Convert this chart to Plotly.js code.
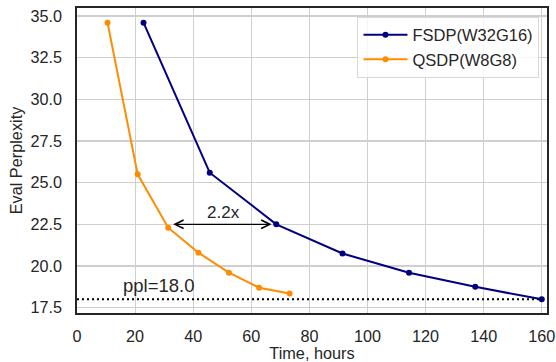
<!DOCTYPE html>
<html>
<head>
<meta charset="utf-8">
<script src="https://cdn.plot.ly/plotly-3.0.1.min.js"></script>
<style>html,body{margin:0;padding:0;background:#fff;}#chart{width:556px;height:362px;}</style>
</head>
<body>
<div id="chart"></div>
<script>
const fsdpName = "FSDP(W32G16)";
const qsdpName = "QSDP(W8G8)";
const fsdpHours = [22.9, 45.7, 68.6, 91.4, 114.3, 137.1, 160];
const fsdpPpl = [34.6, 25.6, 22.5, 20.75, 19.6, 18.75, 18.0];
const qsdpHours = [10.5, 20.9, 31.4, 41.8, 52.3, 62.7, 73.2];
const qsdpPpl = [34.6, 25.5, 22.3, 20.8, 19.6, 18.7, 18.35];
const xTicks = [0, 20, 40, 60, 80, 100, 120, 140, 160];
const yTicks = [17.5, 20.0, 22.5, 25.0, 27.5, 30.0, 32.5, 35.0];
const targetPpl = 18.0;
const targetLabel = "ppl=18.0";
const speedupLabel = "2.2x";
const speedupFrom = 32.6;
const speedupTo = 67.0;
const speedupY = 22.5;

const font = "Liberation Sans, Arial, sans-serif";

const traces = [
  {x: fsdpHours, y: fsdpPpl, name: fsdpName, mode: "lines+markers",
   line: {color: "#000080", width: 2}, marker: {color: "#000080", size: 6}},
  {x: qsdpHours, y: qsdpPpl, name: qsdpName, mode: "lines+markers",
   line: {color: "#ff8c00", width: 2}, marker: {color: "#ff8c00", size: 6}}
];

const layout = {
  width: 556, height: 362,
  margin: {l: 77, r: 9, t: 8, b: 49},
  paper_bgcolor: "#fff", plot_bgcolor: "#fff",
  font: {family: font, size: 16.2, color: "#262626"},
  showlegend: true,
  legend: {x: 0.984, y: 0.972, xanchor: "right", yanchor: "top",
    bgcolor: "rgba(255,255,255,0.8)", bordercolor: "#d8d8d8", borderwidth: 1,
    itemwidth: 44,
    font: {family: font, size: 16.5, color: "#262626"}},
  xaxis: {range: [0, 161.8], tickvals: xTicks, ticktext: xTicks.map(String),
    showgrid: true, gridcolor: "#cfcfcf", gridwidth: 1.2, zeroline: false,
    showline: true, linecolor: "#262626", linewidth: 1.8, mirror: true,
    ticks: "outside", ticklen: 8, tickcolor: "rgba(0,0,0,0)",
    title: {text: "Time, hours", font: {family: font, size: 16.3, color: "#262626"}, standoff: 4}},
  yaxis: {range: [17.18, 35.48], tickvals: yTicks, ticktext: yTicks.map(v => v.toFixed(1)),
    showgrid: true, gridcolor: "#cfcfcf", gridwidth: 1.2, zeroline: false,
    showline: true, linecolor: "#262626", linewidth: 1.8, mirror: true,
    ticks: "outside", ticklen: 10, tickcolor: "rgba(0,0,0,0)",
    title: {text: "Eval Perplexity", font: {family: font, size: 16.3, color: "#262626"}, standoff: 4}},
  shapes: [
    {type: "line", xref: "x", yref: "y", x0: 0, x1: 160, y0: targetPpl, y1: targetPpl,
     line: {color: "#000", width: 2, dash: "2px,3px"}}
  ],
  annotations: [
    {x: 15.2, y: 18.84, xref: "x", yref: "y", text: targetLabel, showarrow: false,
     xanchor: "left", yanchor: "middle", font: {family: font, size: 18.5, color: "#262626"}},
    {x: 50.3, y: 23.22, xref: "x", yref: "y", text: speedupLabel, showarrow: false,
     xanchor: "center", yanchor: "middle", font: {family: font, size: 17, color: "#262626"}},
    {x: speedupTo, y: speedupY, ax: speedupFrom, ay: speedupY, xref: "x", yref: "y",
     axref: "x", ayref: "y", text: "", showarrow: true, arrowside: "end+start",
     arrowhead: 5, startarrowhead: 5, arrowsize: 1.2, startarrowsize: 1.2,
     arrowwidth: 1.4, arrowcolor: "#000"}
  ]
};

Plotly.newPlot("chart", traces, layout, {displayModeBar: false, staticPlot: true});
</script>
</body>
</html>
